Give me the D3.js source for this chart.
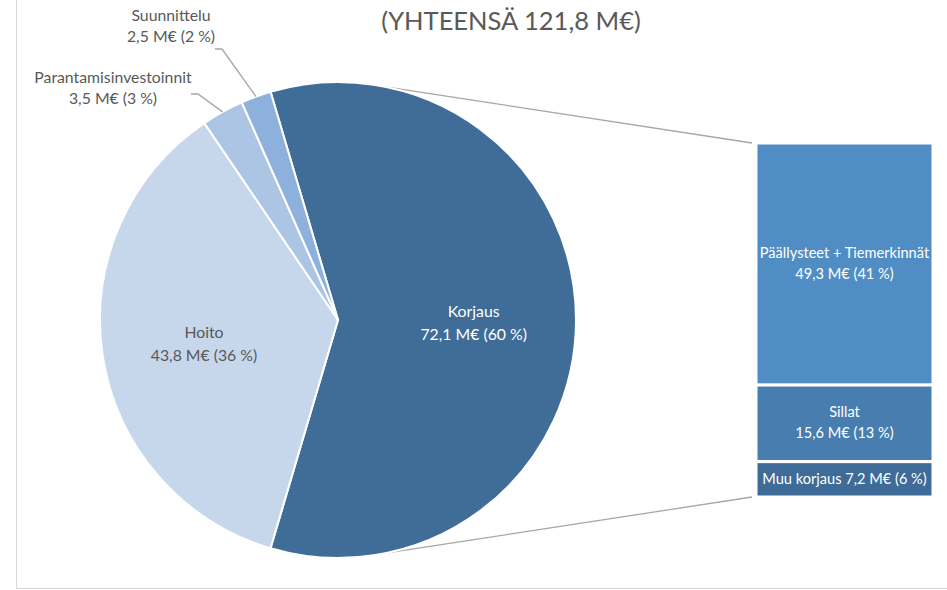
<!DOCTYPE html>
<html>
<head>
<meta charset="utf-8">
<script src="https://cdn.jsdelivr.net/npm/d3@7"></script>
<style>
  body { margin: 0; background: #fff; }
  svg text { font-family: Lato, "Open Sans", sans-serif; }
</style>
</head>
<body>
<div id="graf"></div>
<script>
// Datos
const pieCats = ["Korjaus", "Hoito", "Parantamisinvestoinnit", "Suunnittelu"]
const pieVals = [72.1, 43.8, 3.5, 2.5]
const piePcts = [60, 36, 3, 2]
const barCats = ["Päällysteet + Tiemerkinnät", "Sillat", "Muu korjaus"]
const barVals = [49.3, 15.6, 7.2]
const barPcts = [41, 13, 6]
const titleText = "(YHTEENSÄ 121,8 M€)"

// Dimensiones
const anchoTotal = 947
const altoTotal = 590
const cx = 338, cy = 320, radio = 238
const barX = 756, barW = 177, barTop = 143, barBottom = 497

const pieColors = ["#3f6d98", "#c6d7ec", "#adc5e4", "#8db1dc"]
const barColors = ["#508dc4", "#477daf", "#3e6b97"]
const darkText = "#595959"
const fsPie = 15.8
const fsBar = 14.6

const fmt = (v, p) => `${d3.format(".1f")(v).replace(".", ",")} M€ (${p} %)`

const svg = d3.select("#graf")
  .append("svg")
  .attr("width", anchoTotal)
  .attr("height", altoTotal)

// marco
svg.append("rect")
  .attr("x", 16.5).attr("y", -2)
  .attr("width", anchoTotal).attr("height", 590.5)
  .attr("fill", "none").attr("stroke", "#d9d9d9")

// Título
svg.append("text")
  .attr("x", 511).attr("y", 30)
  .attr("text-anchor", "middle")
  .attr("font-size", 25.5)
  .attr("fill", darkText)
  .text(titleText)

// Pie
const total = d3.sum(pieVals)
const korjausAngle = (pieVals[0] / total) * 2 * Math.PI
const start = Math.PI / 2 - korjausAngle / 2
const pie = d3.pie().sort(null).startAngle(start).endAngle(start + 2 * Math.PI)
const arcs = pie(pieVals)

const arc = d3.arc().innerRadius(0).outerRadius(radio)
const labelArc = d3.arc().innerRadius(radio * 0.57).outerRadius(radio * 0.57)

const g = svg.append("g").attr("transform", `translate(${cx}, ${cy})`)

// líneas de conexión con la barra
const edge = (a) => [radio * Math.sin(a), -radio * Math.cos(a)]
const off = 0.13
const pTop = edge(Math.PI / 2 - korjausAngle / 2 + korjausAngle * off)
const pBot = edge(Math.PI / 2 + korjausAngle / 2 - korjausAngle * off)
g.append("line")
  .attr("x1", pTop[0]).attr("y1", pTop[1])
  .attr("x2", barX - 4 - cx).attr("y2", barTop - cy)
  .attr("stroke", "#a6a6a6").attr("stroke-width", 1.3)
g.append("line")
  .attr("x1", pBot[0]).attr("y1", pBot[1])
  .attr("x2", barX - 4 - cx).attr("y2", barBottom - cy)
  .attr("stroke", "#a6a6a6").attr("stroke-width", 1.3)

g.selectAll("path.slice")
  .data(arcs)
  .join("path")
  .attr("class", "slice")
  .attr("d", arc)
  .attr("fill", (d, i) => pieColors[i])
  .attr("stroke", "#fff")
  .attr("stroke-width", 2)

// etiquetas interiores
const inside = [0, 1]
inside.forEach((i) => {
  const [lx, ly] = labelArc.centroid(arcs[i])
  const t = g.append("text")
    .attr("text-anchor", "middle")
    .attr("font-size", fsPie)
    .attr("fill", i === 0 ? "#fff" : darkText)
  t.append("tspan").attr("x", lx).attr("y", ly - 3).text(pieCats[i])
  t.append("tspan").attr("x", lx).attr("y", ly + 20).text(fmt(pieVals[i], piePcts[i]))
})

// etiquetas exteriores con líneas guía
const outside = [
  { i: 2, tx: 113, ty: 83, lx: 191, ly: 94 },
  { i: 3, tx: 171, ty: 21, lx: 215, ly: 49 },
]
outside.forEach(({ i, tx, ty, lx, ly }) => {
  const a = (arcs[i].startAngle + arcs[i].endAngle) / 2
  const [ex, ey] = edge(a)
  svg.append("polyline")
    .attr("points", `${lx},${ly} ${lx + 7},${ly} ${cx + ex},${cy + ey}`)
    .attr("fill", "none")
    .attr("stroke", "#a6a6a6")
    .attr("stroke-width", 1.3)
  const t = svg.append("text")
    .attr("text-anchor", "middle")
    .attr("font-size", fsPie)
    .attr("fill", darkText)
  t.append("tspan").attr("x", tx).attr("y", ty).text(pieCats[i])
  t.append("tspan").attr("x", tx).attr("y", ty + 21).text(fmt(pieVals[i], piePcts[i]))
})

// Barra apilada
const y = d3.scaleLinear().domain([0, d3.sum(barVals)]).range([barTop, barBottom])
const cum = [0, ...d3.cumsum(barVals)]
const segs = barVals.map((v, i) => ({ v, i, y0: cum[i], y1: cum[i + 1] }))

svg.selectAll("rect.seg")
  .data(segs)
  .join("rect")
  .attr("class", "seg")
  .attr("x", barX)
  .attr("y", (d) => y(d.y0))
  .attr("width", barW)
  .attr("height", (d) => y(d.y1) - y(d.y0))
  .attr("fill", (d) => barColors[d.i])
  .attr("stroke", "#fff")
  .attr("stroke-width", 3)

segs.forEach((d) => {
  const mid = (y(d.y0) + y(d.y1)) / 2
  const t = svg.append("text")
    .attr("text-anchor", "middle")
    .attr("font-size", fsBar)
    .attr("fill", "#fff")
  if (d.i === 2) {
    t.append("tspan").attr("x", barX + barW / 2).attr("y", mid + 5)
      .text(`${barCats[d.i]} ${fmt(d.v, barPcts[d.i])}`)
  } else {
    t.append("tspan").attr("x", barX + barW / 2).attr("y", mid - 6).text(barCats[d.i])
    t.append("tspan").attr("x", barX + barW / 2).attr("y", mid + 15).text(fmt(d.v, barPcts[d.i]))
  }
})
</script>
</body>
</html>
